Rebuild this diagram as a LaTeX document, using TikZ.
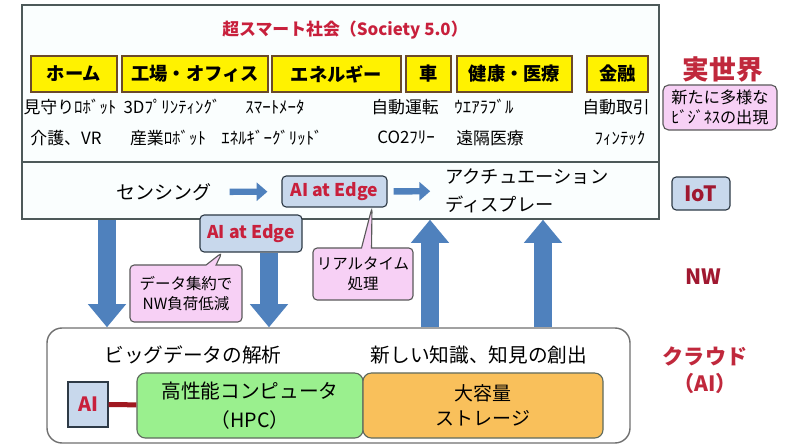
\documentclass[tikz,border=0pt]{standalone}
\usepackage{fontspec}
\setmainfont{Noto Sans CJK JP}
\usetikzlibrary{arrows.meta}
\usetikzlibrary{fit}
\usetikzlibrary{shapes.callouts}

\definecolor{framegray}{HTML}{4D5959}
\definecolor{framefill}{HTML}{FAFEFE}
\definecolor{fieldedge}{HTML}{6B4A2A}
\definecolor{arrowblue}{HTML}{4F81BD}
\definecolor{edgeblue}{HTML}{C8D8EC}
\definecolor{edgeborder}{HTML}{2E3A46}
\definecolor{edgered}{HTML}{C8203C}
\definecolor{notepink}{HTML}{F7D0F5}
\definecolor{notegray}{HTML}{5A5A5A}
\definecolor{layerred}{HTML}{C0283C}
\definecolor{layerdark}{HTML}{A01830}
\definecolor{hpcgreen}{HTML}{9AF08E}
\definecolor{storeorange}{HTML}{F9C05B}
\definecolor{unitedge}{HTML}{5F6B5F}
\definecolor{cloudedge}{HTML}{707070}
\definecolor{linkred}{HTML}{A01820}

\tikzset{
  frame/.style={draw=framegray, line width=1pt, inner sep=0pt},
  field/.style={draw=fieldedge, fill=yellow, line width=1pt, minimum height=0.9cm, inner sep=0pt, font=\fontsize{13}{15}\selectfont\bfseries},
  usecase/.style={inner sep=0pt, font=\fontsize{12}{14}\selectfont},
  edgebox/.style={draw=edgeborder, fill=edgeblue, rounded corners=3pt, line width=0.8pt, inner sep=0pt, text=edgered, font=\fontsize{12.5}{14}\selectfont\bfseries},
  note/.style={rectangle callout, draw=notegray, fill=notepink, rounded corners=3pt, line width=0.8pt, inner sep=0pt, align=center, font=\fontsize{11}{14}\selectfont},
  tag/.style={draw=notegray, fill=notepink, rounded corners=4pt, line width=0.8pt, inner sep=0pt, align=center, font=\fontsize{11.5}{14}\selectfont},
  layer/.style={text=layerred, align=center, font=\fontsize{15}{19}\selectfont\bfseries},
  unit/.style={draw=unitedge, rounded corners=6pt, line width=0.8pt, minimum height=1.625cm, inner sep=0pt, align=center},
  bigarrow/.style={draw=arrowblue, line width=0.45cm, -{Triangle[length=0.58cm,width=0.92cm]}},
  smallarrow/.style={draw=arrowblue, line width=0.16cm, -{Triangle[length=0.27cm,width=0.45cm]}},
}

\begin{document}
\begin{tikzpicture}[x=0.025cm,y=-0.025cm]
\useasboundingbox (0,0) rectangle (789,447);

% real world frame
\node[frame, fill=framefill, fit={(22,5) (659,219)}] (real) {};
\coordinate (div) at (0,162);
\draw[framegray, line width=1pt] (real.west |- div) -- (real.east |- div);
\node[text=edgered, font=\fontsize{12}{14}\selectfont\bfseries] (title) at (345,30) {超スマート社会（Society 5.0）};

\node[field, minimum width=2.15cm] (home) at (74,74) {ホーム};
\node[field, minimum width=3.65cm] (factory) at (195,74) {工場・オフィス};
\node[field, minimum width=3.225cm] (energy) at (336.5,74) {エネルギー};
\node[field, minimum width=1.125cm] (car) at (428.5,74) {車};
\node[field, minimum width=2.875cm] (health) at (514.5,74) {健康・医療};
\node[field, minimum width=1.525cm] (finance) at (617.5,74) {金融};

\node[usecase] (watch) at (70,107) {見守りﾛﾎﾞｯﾄ};
\node[usecase] (print) at (172,107) {3Dﾌﾟﾘﾝﾃｨﾝｸﾞ};
\node[usecase] (meter) at (275,107) {ｽﾏｰﾄﾒｰﾀ};
\node[usecase] (drive) at (405,107) {自動運転};
\node[usecase] (wear) at (484,107) {ｳｴｱﾗﾌﾞﾙ};
\node[usecase] (trade) at (616,107) {自動取引};
\node[usecase] (care) at (66,138) {介護、VR};
\node[usecase] (robot) at (168,138) {産業ﾛﾎﾞｯﾄ};
\node[usecase] (grid) at (272,138) {ｴﾈﾙｷﾞｰｸﾞﾘｯﾄﾞ};
\node[usecase] (co2) at (406,138) {CO2ﾌﾘｰ};
\node[usecase] (remote) at (490,138) {遠隔医療};
\node[usecase] (fintech) at (620,138) {ﾌｨﾝﾃｯｸ};

% IoT row
\node[font=\fontsize{13.5}{16}\selectfont] (sensing) at (164,192) {センシング};
\node[edgebox, minimum width=2.625cm, minimum height=0.775cm] (edge1) at (334.5,191.5) {AI at Edge};
\node[anchor=west, inner sep=0pt, align=left, font=\fontsize{13}{20}\selectfont] (act) at (445,191) {アクチュエーション\\ディスプレー};
\draw[smallarrow, shorten <=0.33cm, shorten >=0.35cm] (sensing) -- (edge1);
\draw[smallarrow, shorten <=0.15cm, shorten >=0.37cm] (edge1) -- (act);

% cloud
\node[frame, draw=cloudedge, fill=white, rounded corners=0.375cm, fit={(47,328) (630,443)}] (cloud) {};
\node[font=\fontsize{14}{16}\selectfont] (bigdata) at (193,355) {ビッグデータの解析};
\node[font=\fontsize{14}{16}\selectfont] (insight) at (479,355) {新しい知識、知見の創出};
\node[draw=edgeborder, fill=edgeblue, line width=0.8pt, minimum width=1cm, minimum height=1.125cm, inner sep=0pt, text=edgered, font=\fontsize{14}{16}\selectfont\bfseries] (ai) at (88,404.5) {AI};
\node[unit, fill=hpcgreen, minimum width=5.65cm, font=\fontsize{14}{21}\selectfont] (hpc) at (250,405.5) {高性能コンピュータ\\（HPC）};
\node[unit, fill=storeorange, minimum width=6cm, font=\fontsize{13.5}{18}\selectfont] (store) at (483,405.5) {大容量\\ストレージ};
\draw[linkred, line width=0.125cm] (ai) -- (hpc);

% network arrows
\node[edgebox, minimum width=2.55cm, minimum height=0.925cm] (edge2) at (251,233.5) {AI at Edge};
\coordinate (a1) at (107,0);
\coordinate (a2) at (269,0);
\coordinate (a3) at (430,0);
\coordinate (a4) at (543,0);
\draw[bigarrow] (real.south -| a1) -- (cloud.north -| a1);
\draw[bigarrow] (edge2.south -| a2) -- (cloud.north -| a2);
\draw[bigarrow] (cloud.north -| a3) -- (real.south -| a3);
\draw[bigarrow] (cloud.north -| a4) -- (real.south -| a4);

\coordinate (t1) at (372,0);
\coordinate (t2) at (222,0);
\node[note, minimum width=2.5cm, minimum height=1.3cm, callout absolute pointer={(edge1.south -| t1)}] (realtime) at (363,274) {リアルタイム\\処理};
\node[note, minimum width=2.8cm, minimum height=1.425cm, callout absolute pointer={(edge2.south -| t2)}] (reduce) at (186,293.5) {データ集約で\\NW負荷低減};

% layer labels
\node[layer, font=\fontsize{19}{22}\selectfont\bfseries] (world) at (723,69) {実世界};
\node[tag, minimum width=2.85cm, minimum height=1.125cm] (biz) at (720,107.5) {新たに多様な\\ﾋﾞｼﾞﾈｽの出現};
\node[edgebox, text=layerdark, minimum width=1.45cm, minimum height=0.825cm, font=\fontsize{15}{18}\selectfont\bfseries] (iot) at (701,193.5) {IoT};
\node[layer, text=layerdark] (nw) at (703,277) {NW};
\node[layer] (cloudlabel) at (705,370) {クラウド\\（AI）};

\end{tikzpicture}
\end{document}
